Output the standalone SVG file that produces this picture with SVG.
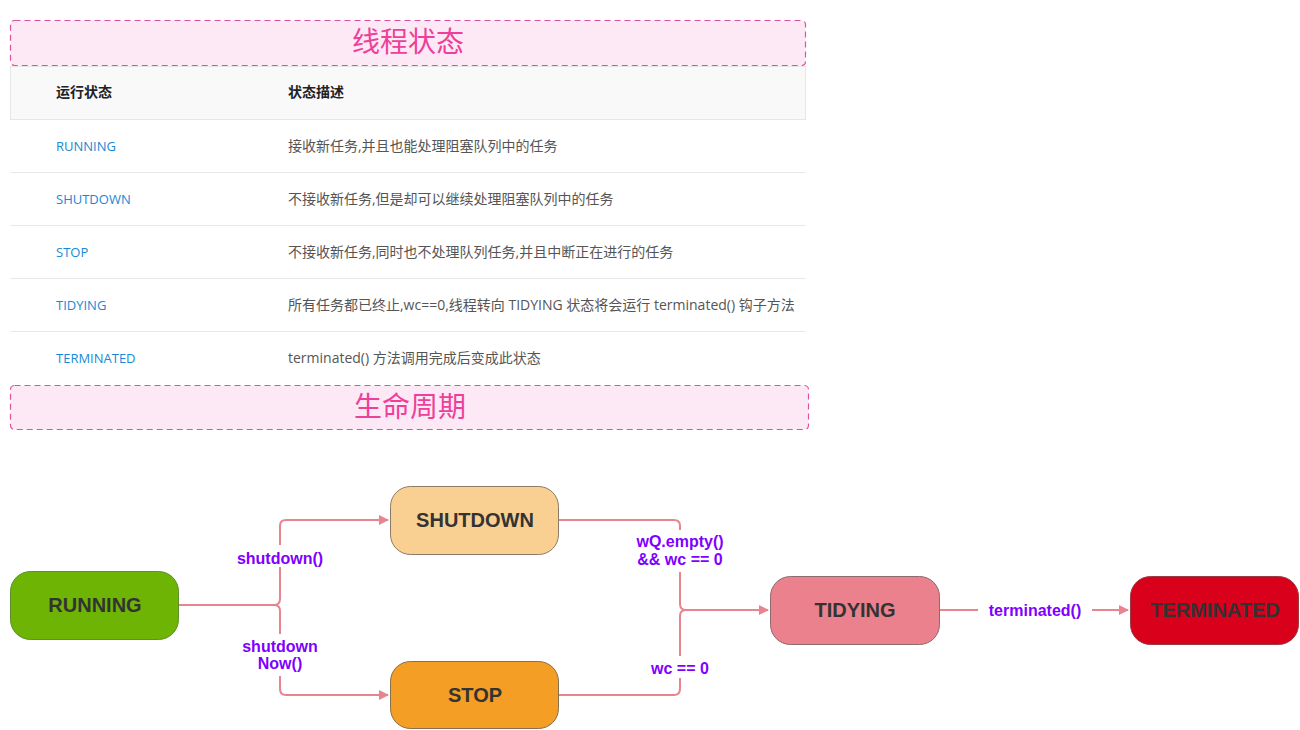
<svg xmlns="http://www.w3.org/2000/svg" width="1300" height="730" viewBox="0 0 1300 730">
<style>
.banner{fill:#fde9f5;stroke:#d9539f;stroke-width:1.2;stroke-dasharray:6 4}
.btitle{font-family:"Noto Sans CJK SC",sans-serif;font-size:28px;fill:#ee3f9a;text-anchor:middle}
.th{font-family:"Noto Sans CJK SC",sans-serif;font-size:14px;font-weight:bold;fill:#222}
.name{font-family:"Open Sans","Liberation Sans",sans-serif;font-size:13px;fill:#1a88d4}
.desc{font-family:"Open Sans","Noto Sans CJK SC",sans-serif;font-size:14px;fill:#555}
.sep{stroke:#e8e8e8;stroke-width:1}
.node{stroke-width:1}
.ntext{font-family:"Liberation Sans",Arial,sans-serif;font-size:20px;font-weight:bold;fill:#333;text-anchor:middle}
.edge{fill:none;stroke:#e8848e;stroke-width:2}
.lbl{font-family:"Liberation Sans",Arial,sans-serif;font-size:16px;font-weight:bold;fill:#7f00ff;text-anchor:middle}
.lblbg{fill:#ffffff}
</style>
<defs>
<marker id="arr" viewBox="0 0 10 10" refX="9" refY="5" markerWidth="5" markerHeight="5" orient="auto" markerUnits="strokeWidth">
<path d="M0,0 L10,5 L0,10 Z" fill="#e8848e"/>
</marker>
</defs>
<rect width="1300" height="730" fill="#ffffff"/>
<g id="banner1">
<rect class="banner" x="10.5" y="20.5" width="795" height="45" rx="4"/>
<text class="btitle" x="408" y="52">线程状态</text>
</g>
<g id="table">
<rect x="10.5" y="66.5" width="795" height="53" fill="#f9f9f9" stroke="#e6e6e6"/>
<text class="th" x="56" y="97">运行状态</text>
<text class="th" x="288" y="97">状态描述</text>
<text class="name" x="56" y="151">RUNNING</text>
<text class="desc" x="288" y="151">接收新任务,并且也能处理阻塞队列中的任务</text>
<line class="sep" x1="10" y1="172.5" x2="806" y2="172.5"/>
<text class="name" x="56" y="204">SHUTDOWN</text>
<text class="desc" x="288" y="204">不接收新任务,但是却可以继续处理阻塞队列中的任务</text>
<line class="sep" x1="10" y1="225.5" x2="806" y2="225.5"/>
<text class="name" x="56" y="257">STOP</text>
<text class="desc" x="288" y="257">不接收新任务,同时也不处理队列任务,并且中断正在进行的任务</text>
<line class="sep" x1="10" y1="278.5" x2="806" y2="278.5"/>
<text class="name" x="56" y="310">TIDYING</text>
<text class="desc" x="288" y="310">所有任务都已终止,wc==0,线程转向 TIDYING 状态将会运行 terminated() 钩子方法</text>
<line class="sep" x1="10" y1="331.5" x2="806" y2="331.5"/>
<text class="name" x="56" y="363">TERMINATED</text>
<text class="desc" x="288" y="363">terminated() 方法调用完成后变成此状态</text>
</g>
<g id="banner2">
<rect class="banner" x="10.5" y="385.5" width="798" height="44" rx="4"/>
<text class="btitle" x="410" y="417">生命周期</text>
</g>
<g id="connectors">
<path class="edge" d="M179,605 H274 Q280,605 280,599 V526 Q280,520 286,520 H388" marker-end="url(#arr)"/>
<path class="edge" d="M274,605 Q280,605 280,611 V689 Q280,695 286,695 H388" marker-end="url(#arr)"/>
<path class="edge" d="M559,520 H674 Q680,520 680,526 V604 Q680,610 686,610 H768" marker-end="url(#arr)"/>
<path class="edge" d="M559,695 H674 Q680,695 680,689 V616 Q680,610 686,610"/>
<path class="edge" d="M940,610 H1128" marker-end="url(#arr)"/>
<rect class="lblbg" x="230" y="545" width="100" height="22"/>
<text class="lbl" x="280" y="564">shutdown()</text>
<rect class="lblbg" x="236" y="634" width="88" height="42"/>
<text class="lbl" x="280" y="652">shutdown</text>
<text class="lbl" x="280" y="669">Now()</text>
<rect class="lblbg" x="628" y="530" width="104" height="42"/>
<text class="lbl" x="680" y="547">wQ.empty()</text>
<text class="lbl" x="680" y="565">&amp;&amp; wc == 0</text>
<rect class="lblbg" x="643" y="656" width="74" height="22"/>
<text class="lbl" x="680" y="674">wc == 0</text>
<rect class="lblbg" x="978" y="598" width="114" height="24"/>
<text class="lbl" x="1035" y="616">terminated()</text>
</g>
<g id="RUNNING">
<rect class="node" x="10.5" y="571.5" width="168" height="68" rx="20" fill="#6db405" stroke="#5e8f2a"/>
<text class="ntext" x="95" y="612">RUNNING</text>
</g>
<g id="SHUTDOWN">
<rect class="node" x="390.5" y="486.5" width="168" height="68" rx="20" fill="#f9d092" stroke="#8a7b68"/>
<text class="ntext" x="475" y="527">SHUTDOWN</text>
</g>
<g id="STOP">
<rect class="node" x="390.5" y="661.5" width="168" height="67" rx="20" fill="#f49e25" stroke="#85704f"/>
<text class="ntext" x="475" y="702">STOP</text>
</g>
<g id="TIDYING">
<rect class="node" x="770.5" y="576.5" width="169" height="68" rx="20" fill="#eb818c" stroke="#8c6a6d"/>
<text class="ntext" x="855" y="617">TIDYING</text>
</g>
<g id="TERMINATED">
<rect class="node" x="1130.5" y="576.5" width="168" height="68" rx="20" fill="#d8001b" stroke="#9a3a44"/>
<text class="ntext" x="1215" y="617">TERMINATED</text>
</g>
</svg>
